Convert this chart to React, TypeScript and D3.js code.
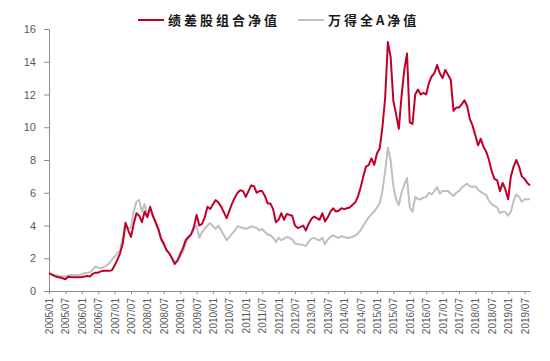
import * as d3 from "d3";
import React, { useEffect, useRef } from "react";

// monthly net values, 2005/01 .. 2019/09
const startYear = 2005;
const portfolio = [
  1.1, 1.0, 0.92, 0.85, 0.82, 0.78, 0.72, 0.87, 0.85, 0.84, 0.84, 0.84,
  0.85, 0.88, 0.92, 0.88, 1.05, 1.12, 1.12, 1.2, 1.24, 1.24, 1.24, 1.26,
  1.55, 1.9, 2.3, 2.9, 4.15, 3.7, 3.3, 4.1, 4.75, 4.6, 4.2, 4.85,
  4.5, 5.15, 4.6, 4.2, 3.8, 3.2, 2.9, 2.5, 2.3, 2.0, 1.65, 1.85,
  2.25, 2.6, 3.1, 3.3, 3.45, 3.9, 4.65, 4.0, 4.1, 4.5, 5.15, 5.0,
  5.3, 5.55, 5.4, 5.15, 4.8, 4.45, 4.9, 5.35, 5.7, 6.0, 6.15, 6.1,
  5.75, 6.1, 6.45, 6.4, 6.0, 6.1, 6.1, 5.8, 5.35, 5.35, 5.0, 4.2,
  4.35, 4.75, 4.35, 4.7, 4.65, 4.6, 4.0, 3.85, 3.9, 4.0, 3.7, 4.1,
  4.4, 4.55, 4.45, 4.35, 4.75, 4.25, 4.5, 4.85, 5.05, 4.85, 4.9, 5.05,
  5.0, 5.05, 5.1, 5.25, 5.4, 5.75, 6.3, 7.0, 7.6, 7.7, 8.1, 7.7,
  8.4, 8.7, 10.0, 11.8, 15.2, 14.3, 11.6, 10.8, 9.9, 11.9, 13.5, 14.5,
  10.3, 10.2, 12.0, 12.3, 12.0, 12.1, 12.0, 12.7, 13.1, 13.3, 13.8, 13.3,
  13.0, 13.5, 13.2, 12.9, 11.0, 11.2, 11.2, 11.4, 11.65, 11.3, 10.5, 10.1,
  9.5, 8.9, 9.3, 8.8, 8.5, 8.0, 7.3, 6.85, 6.75, 6.1, 6.6, 6.2,
  5.6, 7.0, 7.6, 8.0, 7.6, 7.0, 6.85, 6.6, 6.45,
];
const windA = [
  1.1, 1.02, 0.98, 0.95, 0.92, 0.9, 0.88, 0.95, 0.98, 0.96, 0.96, 0.98,
  1.02, 1.08, 1.12, 1.15, 1.3, 1.5, 1.42, 1.4, 1.45, 1.55, 1.7, 1.9,
  2.1, 2.3, 2.5, 3.3, 4.2, 3.8, 3.9, 4.85, 5.45, 5.55, 4.85, 5.3,
  4.6, 5.0, 4.6, 4.1, 3.7, 3.1, 2.8, 2.5, 2.3, 2.0, 1.75, 1.85,
  2.1, 2.4, 2.9, 3.2, 3.5, 3.8, 4.0, 3.25, 3.6, 3.8, 4.0, 4.15,
  3.95, 3.8, 4.0, 3.7, 3.4, 3.1, 3.3, 3.5, 3.7, 3.95, 3.9, 3.85,
  3.8, 3.85, 3.95, 3.9, 3.85, 3.7, 3.8, 3.6, 3.45, 3.4, 3.25, 3.0,
  3.25, 3.1, 3.2, 3.3, 3.25, 3.15, 2.9, 2.85, 2.85, 2.8, 2.75, 3.0,
  3.2, 3.25, 3.15, 3.1, 3.25, 2.85, 3.15, 3.3, 3.4, 3.3, 3.25, 3.35,
  3.3, 3.25, 3.25, 3.3, 3.4, 3.5, 3.7, 4.0, 4.25, 4.5, 4.7, 4.85,
  5.1, 5.35, 6.1, 7.3, 8.75, 8.0, 6.4, 5.6, 5.25, 6.0, 6.5, 6.9,
  5.1, 4.85, 5.75, 5.6, 5.6, 5.7, 5.75, 6.0, 5.9, 6.1, 6.35, 5.95,
  6.1, 6.1, 6.1, 5.95, 5.8, 6.0, 6.1, 6.3, 6.45, 6.55, 6.4, 6.35,
  6.4, 6.2, 6.05, 5.95, 5.85, 5.5, 5.3, 5.2, 5.1, 4.75, 4.85, 4.8,
  4.6, 4.85, 5.5, 5.9, 5.75, 5.45, 5.6, 5.6, 5.6,
];
const yTicks = [0, 2, 4, 6, 8, 10, 12, 14, 16];
const seriesNames = ["绩差股组合净值", "万得全A净值"];
const seriesColors = ["#C00029", "#BFBFBF"];

const monthLabel = (m: number) =>
  `${startYear + Math.floor(m / 12)}/${String((m % 12) + 1).padStart(2, "0")}`;

const App = () => {
  const svgRef = useRef<SVGSVGElement>(null);

  useEffect(() => {
    const width = 550,
      height = 361;
    const margin = { top: 29, right: 20, bottom: 70, left: 49 };

    const svg = d3.select(svgRef.current);
    svg.selectAll("*").remove();

    const n = portfolio.length;
    const x = d3
      .scaleLinear()
      .domain([0, n - 1])
      .range([margin.left, width - margin.right]);
    const y = d3
      .scaleLinear()
      .domain([0, 16])
      .range([height - margin.bottom, margin.top]);

    const axisColor = "#8C8C8C";
    const labelColor = "#595959";

    // y axis
    const yAxis = svg
      .append("g")
      .attr("transform", `translate(${margin.left},0)`)
      .call(d3.axisLeft(y).tickValues(yTicks).tickSize(5).tickPadding(8));
    yAxis.select(".domain").attr("stroke", axisColor);
    yAxis.selectAll(".tick line").attr("stroke", axisColor);
    yAxis
      .selectAll(".tick text")
      .attr("fill", labelColor)
      .style("font-size", "11px")
      .style("font-family", "Arial, 'Liberation Sans', sans-serif");

    // x axis
    const xTicks = d3.range(0, n, 6);
    const xAxis = svg
      .append("g")
      .attr("transform", `translate(0,${y(0)})`)
      .call(
        d3
          .axisBottom(x)
          .tickValues(xTicks)
          .tickFormat((d) => monthLabel(d as number))
          .tickSize(3)
          .tickSizeOuter(0)
      );
    xAxis.select(".domain").attr("stroke", axisColor);
    xAxis.selectAll(".tick line").attr("stroke", axisColor);
    xAxis
      .selectAll(".tick text")
      .attr("fill", labelColor)
      .attr("transform", "rotate(-90)")
      .attr("text-anchor", "end")
      .attr("x", -7)
      .attr("y", 0)
      .attr("dy", "0.35em")
      .style("font-size", "10px")
      .style("font-family", "Arial, 'Liberation Sans', sans-serif");

    // lines
    const line = d3
      .line<number>()
      .x((_, i) => x(i))
      .y((d) => y(d));

    [windA, portfolio].forEach((vals, k) => {
      svg
        .append("path")
        .datum(vals)
        .attr("fill", "none")
        .attr("stroke", seriesColors[1 - k])
        .attr("stroke-width", 2)
        .attr("stroke-linejoin", "round")
        .attr("d", line);
    });

    // legend
    const legendItems = [
      { x0: 138, name: seriesNames[0], color: seriesColors[0] },
      { x0: 298, name: seriesNames[1], color: seriesColors[1] },
    ];
    const lg = svg.append("g");
    legendItems.forEach((it) => {
      lg.append("line")
        .attr("x1", it.x0)
        .attr("x2", it.x0 + 26)
        .attr("y1", 20)
        .attr("y2", 20)
        .attr("stroke", it.color)
        .attr("stroke-width", 2);
      lg.append("text")
        .attr("x", it.x0 + 30)
        .attr("y", 20)
        .attr("dy", "0.36em")
        .attr("fill", "#1a1a1a")
        .style("font-size", "13px")
        .style("font-weight", "bold")
        .style("letter-spacing", "3px")
        .style("font-family", "'Noto Sans CJK SC', sans-serif")
        .text(it.name);
    });
  }, []);

  return (
    <svg
      ref={svgRef}
      width={550}
      height={361}
      style={{ position: "absolute", left: 0, top: 0, background: "#fff" }}
    ></svg>
  );
};

export default App;
